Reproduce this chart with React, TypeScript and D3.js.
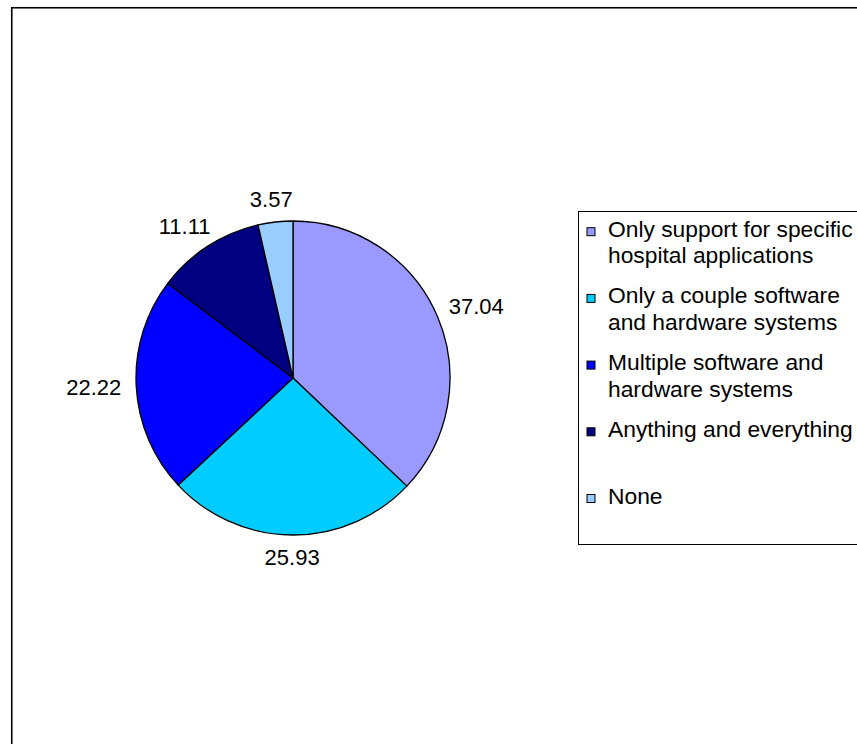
import React, { useEffect, useRef } from "react";
import * as d3 from "d3";

const categories = [
  "Only support for specific hospital applications",
  "Only a couple software and hardware systems",
  "Multiple software and hardware systems",
  "Anything and everything",
  "None",
];
const values = [37.04, 25.93, 22.22, 11.11, 3.57];
const valueLabels = ["37.04", "25.93", "22.22", "11.11", "3.57"];
const legendLines = [
  ["Only support for specific", "hospital applications"],
  ["Only a couple software", "and hardware systems"],
  ["Multiple software and", "hardware systems"],
  ["Anything and everything", ""],
  ["None", ""],
];
const colors = ["#9999FF", "#00CCFF", "#0000FF", "#000080", "#99CCFF"];

const W = 857;
const H = 744;
const FONT = "'Liberation Sans', Arial, sans-serif";

export default function App() {
  const ref = useRef<SVGSVGElement | null>(null);

  useEffect(() => {
    const svg = d3.select(ref.current);
    svg.selectAll("*").remove();

    // outer chart border
    svg
      .append("rect")
      .attr("x", 11.75)
      .attr("y", 7.75)
      .attr("width", W + 20)
      .attr("height", H + 20)
      .attr("fill", "#fff")
      .attr("stroke", "#000")
      .attr("stroke-width", 1.6);

    const cx = 293;
    const cy = 378;
    const r = 157;

    const data = categories.map((c, i) => ({ c, v: values[i], i }));
    const pie = d3
      .pie<any>()
      .sort(null)
      .value((d) => d.v);
    const arcs = pie(data);
    const arc = d3.arc<any>().innerRadius(0).outerRadius(r);

    const g = svg.append("g").attr("transform", `translate(${cx},${cy})`);
    g.selectAll("path")
      .data(arcs)
      .enter()
      .append("path")
      .attr("d", arc as any)
      .attr("fill", (d: any) => colors[d.data.i])
      .attr("stroke", "#000")
      .attr("stroke-width", 1.3)
      .attr("stroke-linejoin", "round");

    // labels
    const fs = 22;
    const labelR = r + 15;
    arcs.forEach((a: any, i: number) => {
      const ang = (a.startAngle + a.endAngle) / 2;
      const s = Math.sin(ang);
      const c = Math.cos(ang);
      const txt = valueLabels[i];
      const halfW = (txt.length * 0.5 * fs) / 2;
      const halfH = 8;
      const x = labelR * s + s * halfW;
      const y = -labelR * c - c * halfH;
      g.append("text")
        .attr("x", x)
        .attr("y", y)
        .attr("text-anchor", "middle")
        .attr("dominant-baseline", "central")
        .attr("font-family", FONT)
        .attr("font-size", fs)
        .attr("fill", "#000")
        .text(txt);
    });

    // legend
    const lx = 578.5;
    const ly = 211.5;
    svg
      .append("rect")
      .attr("x", lx)
      .attr("y", ly)
      .attr("width", 320)
      .attr("height", 333)
      .attr("fill", "#fff")
      .attr("stroke", "#000")
      .attr("stroke-width", 1);

    const firstBase = 236.7;
    const itemStep = 66.7;
    const lineStep = 26.7;
    legendLines.forEach((lines, i) => {
      const base = firstBase + i * itemStep;
      svg
        .append("rect")
        .attr("x", 587)
        .attr("y", base - 9)
        .attr("width", 8)
        .attr("height", 8)
        .attr("fill", colors[i])
        .attr("stroke", "#000")
        .attr("stroke-width", 1);
      lines.forEach((ln, j) => {
        if (!ln) return;
        svg
          .append("text")
          .attr("x", 608)
          .attr("y", base + j * lineStep)
          .attr("font-family", FONT)
          .attr("font-size", 22.8)
          .attr("fill", "#000")
          .text(ln);
      });
    });
  }, []);

  return (
    <svg
      ref={ref}
      width={W}
      height={H}
      style={{ position: "absolute", left: 0, top: 0, display: "block" }}
    />
  );
}
